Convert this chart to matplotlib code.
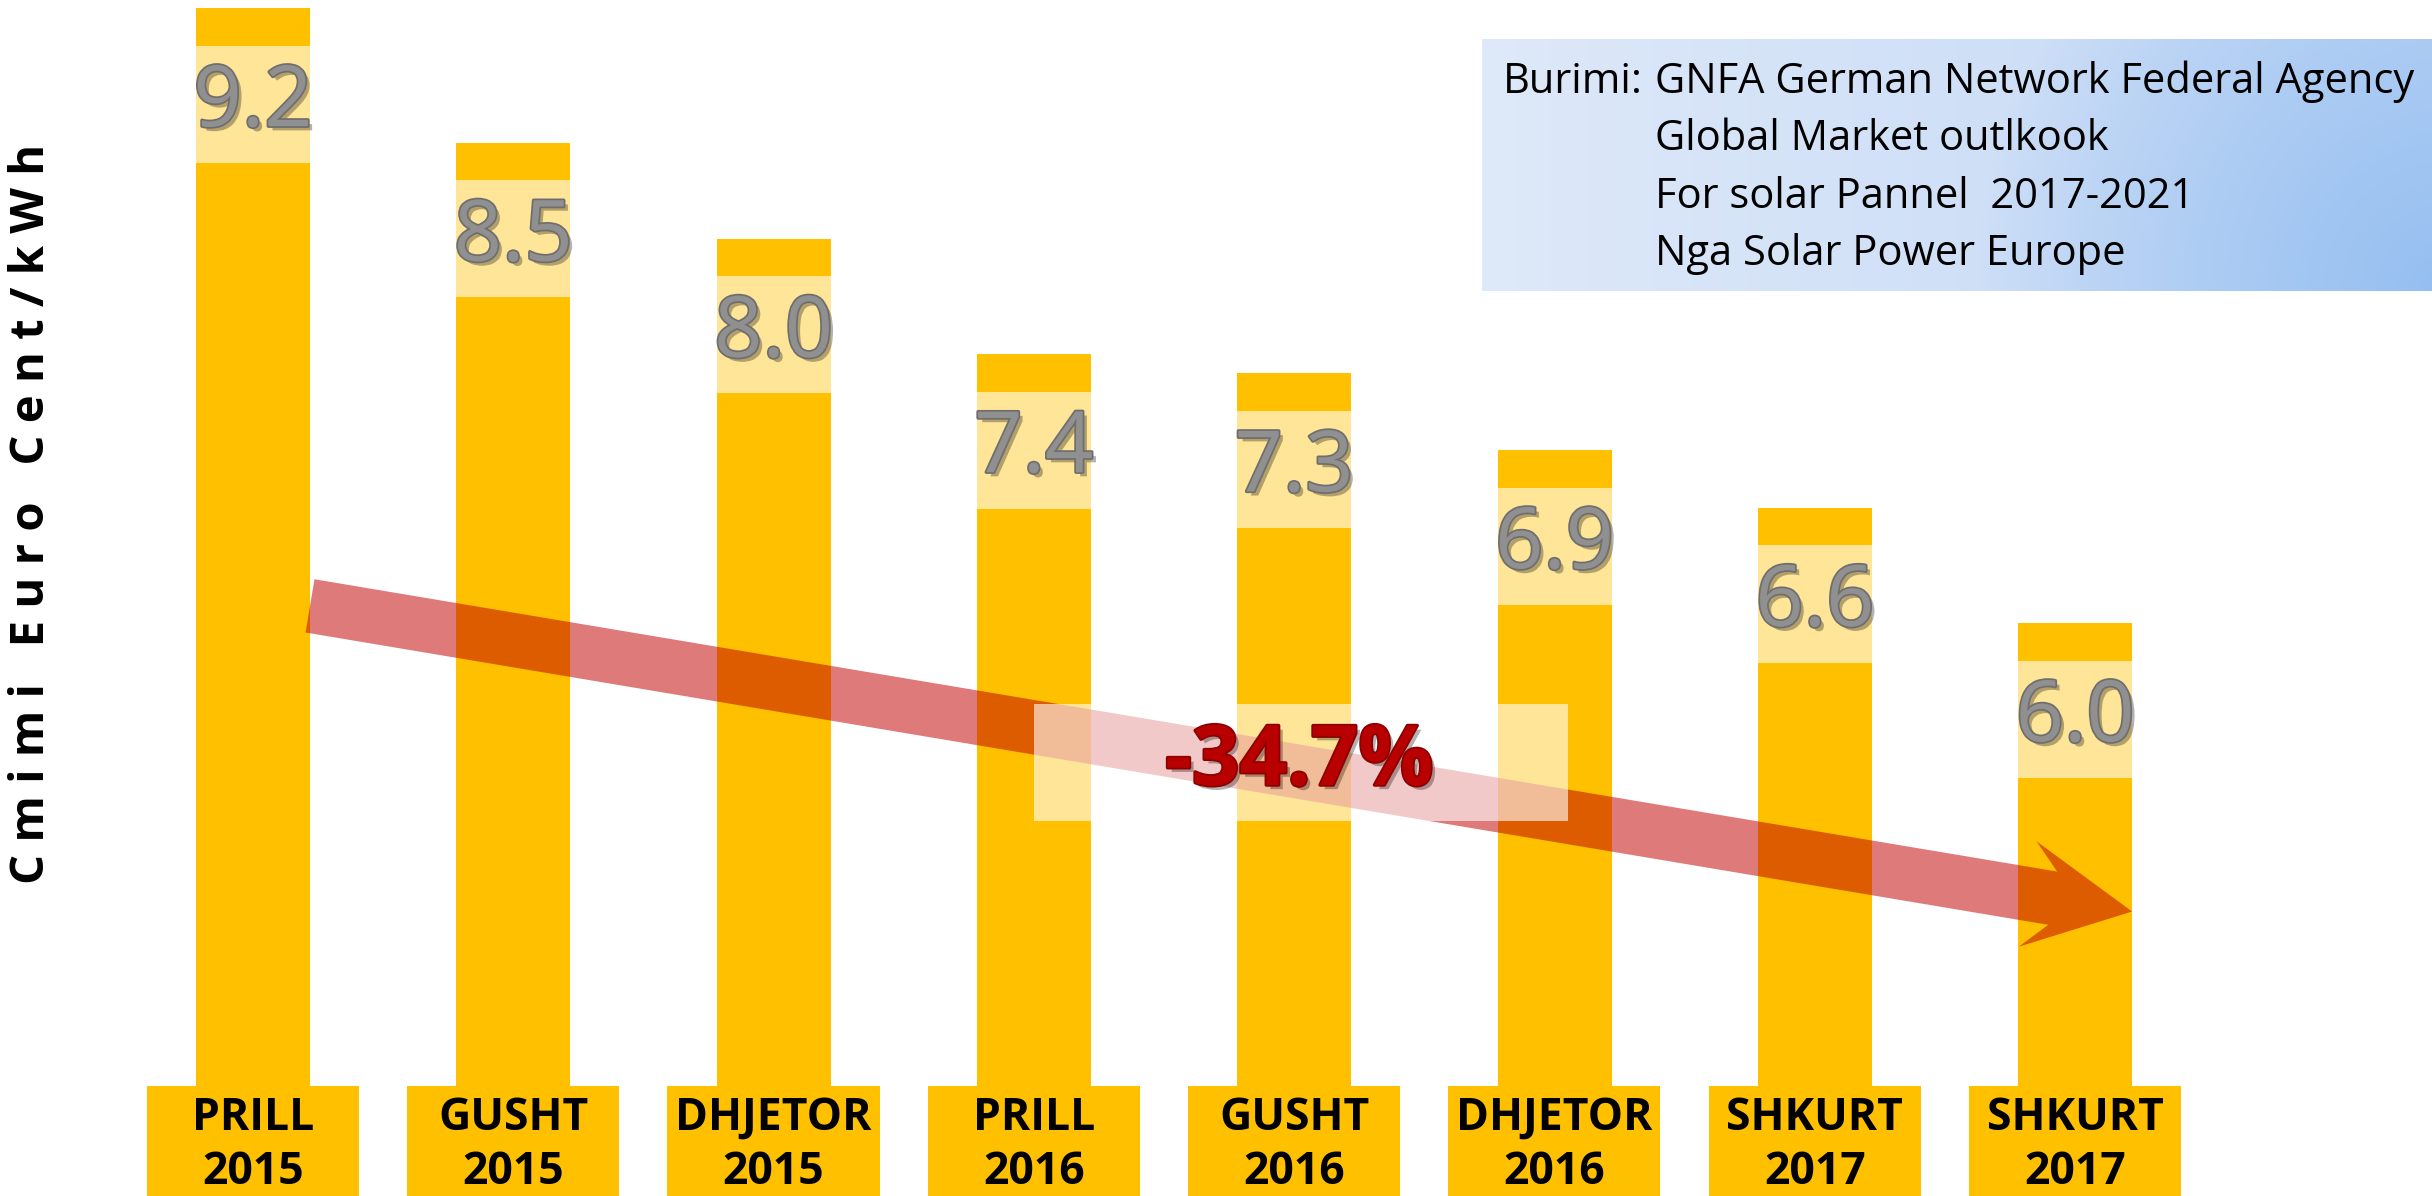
import matplotlib
matplotlib.use("Agg")
import matplotlib.pyplot as plt
import matplotlib.patheffects as pe
from matplotlib.patches import Rectangle, FancyArrow
from matplotlib.transforms import IdentityTransform
import numpy as np

# ---------------- data ----------------
months = ["PRILL", "GUSHT", "DHJETOR", "PRILL", "GUSHT", "DHJETOR", "SHKURT", "SHKURT"]
years = ["2015", "2015", "2015", "2016", "2016", "2016", "2017", "2017"]
prices = [9.2, 8.5, 8.0, 7.4, 7.3, 6.9, 6.6, 6.0]
change_label = "-34.7%"
ylabel_text = "C m i m i   E u r o   C e n t / k W h"
source_prefix = "Burimi:"
source_lines = ["GNFA German Network Federal Agency",
                "Global Market outlkook",
                "For solar Pannel  2017-2021",
                "Nga Solar Power Europe"]

# ---------------- figure ----------------
W, H, DPI = 2432, 1196, 100
fig = plt.figure(figsize=(W / DPI, H / DPI), dpi=DPI)
fig.patch.set_facecolor("white")
ax = fig.add_axes([0, 0, 1, 1])
ax.set_xlim(-0.972, 8.371)
ax.set_ylim(3.02, 9.242)
ax.axis("off")

FONT = "Open Sans"
YEL = "#FFC000"
x = np.arange(len(prices))
bw = 0.438

ax.bar(x, prices, width=bw, color=YEL, zorder=1, linewidth=0)

# trend arrow (drawn in pixel space so the head keeps its shape)
start = ax.transData.transform((x[0] + bw / 2, 6.09))
tip = ax.transData.transform((x[-1] + bw / 2, 4.50))
d = tip - start
arrow = FancyArrow(start[0], start[1], d[0], d[1], width=54, head_width=107,
                   head_length=106, overhang=0.24, length_includes_head=True,
                   transform=IdentityTransform(), facecolor="#C00000",
                   alpha=0.52, linewidth=0, zorder=2)
ax.add_patch(arrow)

# value label bands + labels
band_h = 0.61
off = 0.5
val_fx = [pe.SimplePatchShadow(offset=(3, -3), shadow_rgbFace="black", alpha=0.3),
          pe.Stroke(linewidth=2.5, foreground="#6E6E6E"), pe.Normal()]
for xi, v in zip(x, prices):
    ax.add_patch(Rectangle((xi - bw / 2, v - off - band_h / 2), bw, band_h,
                           facecolor="white", alpha=0.6, linewidth=0, zorder=3))
    ax.text(xi, v - off, f"{v:.1f}", ha="center", va="center", fontsize=61,
            family=FONT, color="#909090", zorder=6, path_effects=val_fx)

# change label band + label
ax.add_patch(Rectangle((x[3], 5.275 - band_h / 2), x[5] - x[3] + 0.05, band_h,
                       facecolor="white", alpha=0.6, linewidth=0, zorder=3))
red_fx = [pe.SimplePatchShadow(offset=(3, -3), shadow_rgbFace="black", alpha=0.3),
          pe.Stroke(linewidth=2.5, foreground="#8B0000"), pe.Normal()]
ax.text(4.02, 5.27, change_label, ha="center", va="center", fontsize=60,
        family=FONT, fontweight="bold", color="#B80000", zorder=6,
        path_effects=red_fx)

# category label boxes
ybot = ax.get_ylim()[0]
for xi, m, yr in zip(x, months, years):
    ax.add_patch(Rectangle((xi - 0.408, ybot), 0.815, 3.59 - ybot,
                           facecolor=YEL, linewidth=0, zorder=4))
    ax.text(xi, 3.365, m, ha="center", va="baseline", fontsize=32,
            family=FONT, fontweight="bold", color="black", zorder=6)
    ax.text(xi, 3.08, yr, ha="center", va="baseline", fontsize=32,
            family=FONT, fontweight="bold", color="black", zorder=6)

# y label
fig.text(32 / W, 1 - 514 / H, ylabel_text, rotation=90, ha="center", va="center",
         fontsize=34, family=FONT, fontweight="bold", color="black")

# source box with gradient
bx, by, bwid, bht = 1482, 39, 950, 252
sax = fig.add_axes([bx / W, 1 - (by + bht) / H, bwid / W, bht / H])
sax.axis("off")
yy, xx = np.mgrid[0:bht, 0:bwid]
light = np.array([0xDE, 0xE9, 0xF9]) / 255
mid = np.array([0xC2, 0xD7, 0xF5]) / 255
blue = np.array([0x95, 0xBF, 0xF1]) / 255
lin = (xx / bwid)[..., None]
base = light * (1 - lin) + mid * lin
dist = np.hypot(xx - 960, (yy - 250) * 1.0)
t = (np.clip(1 - dist / 470, 0, 1) ** 0.9)[..., None]
img = base * (1 - t) + blue * t
sax.imshow(img, extent=(0, bwid, bht, 0), aspect="auto", interpolation="bilinear")
sax.set_xlim(0, bwid)
sax.set_ylim(bht, 0)
sax.text(21, 54, source_prefix, ha="left", va="baseline", fontsize=30,
         family=FONT, color="black")
for i, line in enumerate(source_lines):
    sax.text(173, 54 + 57.3 * i, line, ha="left", va="baseline", fontsize=30,
             family=FONT, color="black")

fig.savefig("out.png", dpi=DPI, facecolor="white")
